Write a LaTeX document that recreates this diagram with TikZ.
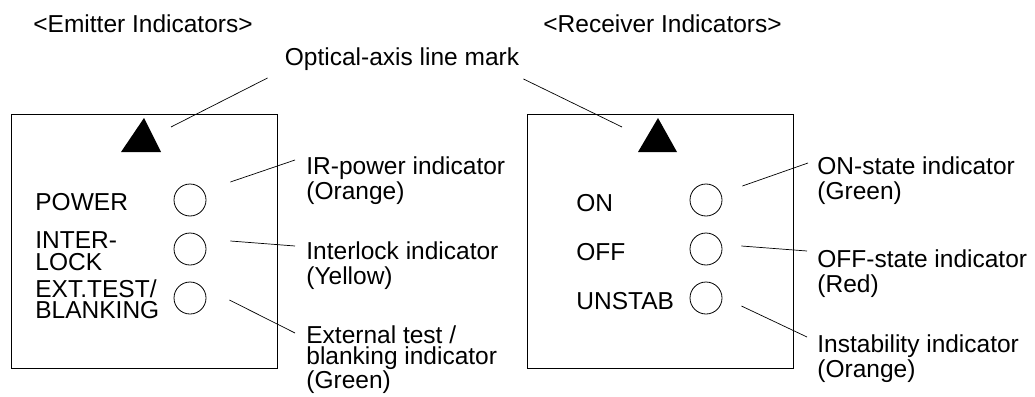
\documentclass[tikz,border=0pt]{standalone}
\usepackage{fontspec}
\setmainfont{Liberation Sans}
\usetikzlibrary{calc}

\tikzset{
  txt/.style = {font=\fontsize{24.5}{25}\selectfont, align=left, anchor=base west, inner sep=0pt},
  led/.style = {circle, draw, minimum size=32pt, inner sep=0pt},
  axismark/.style = {fill=black},
  leader/.style = {line width=0.7pt}
}

\begin{document}
\begin{tikzpicture}[x=1pt, y=-1pt, line width=0.8pt]
            \useasboundingbox (0,0) rectangle (1035,396);
            % titres
            \node[txt] (temit) at (33,33) {<Emitter Indicators>};
            \node[txt] (trecv) at (543,33) {<Receiver Indicators>};
            \node[txt, anchor=base] (taxis) at (402,66) {Optical-axis line mark};
            % emetteur
            \draw (11,114) rectangle (277,368);
            \fill[axismark] (121,152) -- (144,118) -- (161,152) -- cycle;
            \coordinate (emark) at (171,127);
            \node[led] (pw) at (190,200) {};
            \node[led] (il) at (190,249) {};
            \node[led] (xt) at (190,298) {};
            \node[txt] (npw) at (35,210) {POWER};
            \node[txt, font=\fontsize{24.5}{22}\selectfont] (nil) at (35,270) {INTER-\\LOCK};
            \node[txt, font=\fontsize{24.5}{21}\selectfont] (nxt) at (35,318) {EXT.TEST/\\BLANKING};
            % (la base d'un noeud a plusieurs lignes = derniere ligne)
            \node[txt] (lpw) at (306,199) {IR-power indicator\\(Orange)};
            \node[txt] (lil) at (306,284) {Interlock indicator\\(Yellow)};
            \node[txt, font=\fontsize{24.5}{21}\selectfont] (lxt) at (306,388) {External test /\\blanking indicator\\(Green)};
            % recepteur
            \draw (527,114) rectangle (793,368);
            \fill[axismark] (638,152) -- (658,118) -- (677,152) -- cycle;
            \coordinate (rmark) at (622,127);
            \node[led] (on) at (706,200) {};
            \node[led] (off) at (706,249) {};
            \node[led] (us) at (706,298) {};
            \node[txt] (non) at (576,211) {ON};
            \node[txt] (noff) at (576,260) {OFF};
            \node[txt] (nus) at (576,309) {UNSTAB};
            \node[txt] (lon) at (817,199) {ON-state indicator\\(Green)};
            \node[txt] (loff) at (817,292) {OFF-state indicator\\(Red)};
            \node[txt] (lus) at (817,377) {Instability indicator\\(Orange)};
            % traits de rappel
            \draw[leader] (emark) -- ($(taxis.base west)+(-17,12)$);
            \draw[leader] (rmark) -- ($(taxis.base east)+(4,13)$);
            \draw[leader] ($(pw.east)+(24,-18)$) -- ($(lpw.base west)+(-11,-39)$);
            \draw[leader] ($(il.east)+(24,-8)$) -- ($(lil.base west)+(-11,-38)$);
            \draw[leader] ($(xt.east)+(23,2)$) -- ($(lxt.base west)+(-11,-55)$);
            \draw[leader] ($(on.east)+(20,-14)$) -- ($(lon.base west)+(-9,-36)$);
            \draw[leader] ($(off.east)+(19,-3)$) -- ($(loff.base west)+(-10,-41)$);
            \draw[leader] ($(us.east)+(19,8)$) -- ($(lus.base west)+(-10,-40)$);
\end{tikzpicture}
\end{document}
